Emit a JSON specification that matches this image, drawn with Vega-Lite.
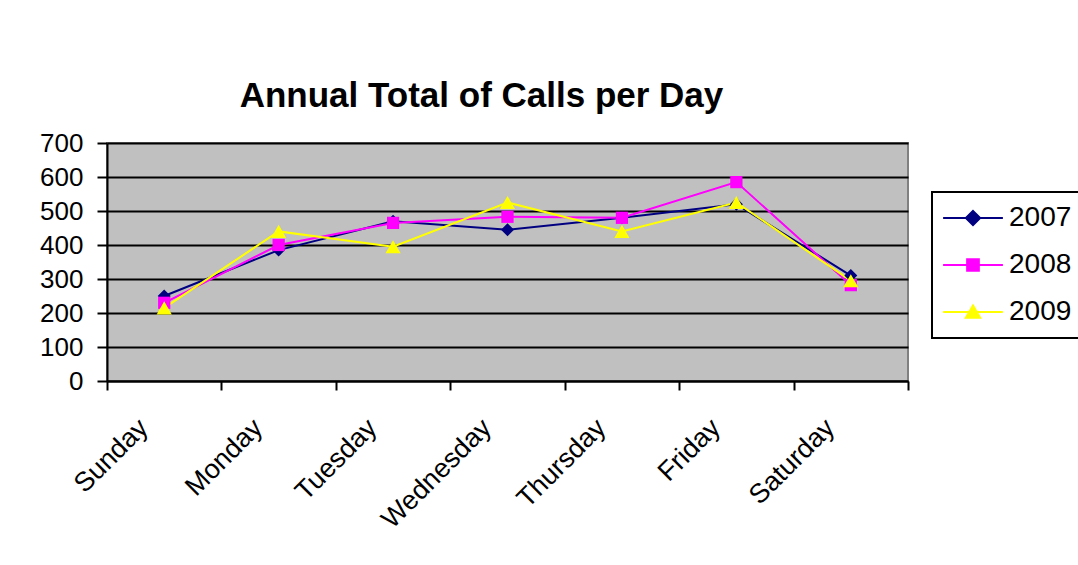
{
  "$schema": "https://vega.github.io/schema/vega-lite/v6.json",
  "autosize": {"type": "none"},
  "width": 801,
  "height": 238,
  "padding": {"left": 107, "top": 143, "right": 170, "bottom": 184},
  "background": "white",
  "title": {
    "text": "Annual Total of Calls per Day",
    "font": "Liberation Sans",
    "fontSize": 35,
    "fontWeight": "bold",
    "color": "black",
    "anchor": "middle",
    "frame": "group",
    "dx": -26,
    "baseline": "alphabetic",
    "offset": -12
  },
  "config": {
    "font": "Liberation Sans",
    "view": {"fill": "#C0C0C0", "stroke": "#808080", "strokeWidth": 2}
  },
  "data": {
    "values": [
      {"day": "Sunday", "year": "2007", "calls": 250},
      {"day": "Monday", "year": "2007", "calls": 385},
      {"day": "Tuesday", "year": "2007", "calls": 470},
      {"day": "Wednesday", "year": "2007", "calls": 445},
      {"day": "Thursday", "year": "2007", "calls": 480},
      {"day": "Friday", "year": "2007", "calls": 520},
      {"day": "Saturday", "year": "2007", "calls": 310},
      {"day": "Sunday", "year": "2008", "calls": 230},
      {"day": "Monday", "year": "2008", "calls": 400},
      {"day": "Tuesday", "year": "2008", "calls": 465},
      {"day": "Wednesday", "year": "2008", "calls": 483},
      {"day": "Thursday", "year": "2008", "calls": 480},
      {"day": "Friday", "year": "2008", "calls": 585},
      {"day": "Saturday", "year": "2008", "calls": 282},
      {"day": "Sunday", "year": "2009", "calls": 215},
      {"day": "Monday", "year": "2009", "calls": 440},
      {"day": "Tuesday", "year": "2009", "calls": 395},
      {"day": "Wednesday", "year": "2009", "calls": 525},
      {"day": "Thursday", "year": "2009", "calls": 440},
      {"day": "Friday", "year": "2009", "calls": 525},
      {"day": "Saturday", "year": "2009", "calls": 295}
    ]
  },
  "encoding": {
    "x": {
      "field": "day",
      "type": "nominal",
      "sort": ["Sunday", "Monday", "Tuesday", "Wednesday", "Thursday", "Friday", "Saturday"],
      "axis": {
        "title": null,
        "labelAngle": -45,
        "labelFontSize": 27,
        "labelColor": "black",
        "labelPadding": 24,
        "labelOffset": -30,
        "tickBand": "extent",
        "ticks": true,
        "tickSize": 9,
        "tickWidth": 2,
        "tickColor": "black",
        "domainColor": "black",
        "domainWidth": 2,
        "grid": false
      }
    },
    "y": {
      "field": "calls",
      "type": "quantitative",
      "scale": {"domain": [0, 700], "nice": false},
      "axis": {
        "title": null,
        "values": [0, 100, 200, 300, 400, 500, 600, 700],
        "labelFontSize": 26,
        "labelColor": "black",
        "labelPadding": 14,
        "tickSize": 10,
        "tickWidth": 2,
        "tickColor": "black",
        "domainColor": "black",
        "domainWidth": 2,
        "grid": true,
        "gridColor": "black",
        "gridWidth": 2
      }
    }
  },
  "layer": [
    {
      "mark": {"type": "line", "strokeWidth": 2},
      "encoding": {
        "color": {
          "field": "year",
          "type": "nominal",
          "scale": {"domain": ["2007", "2008", "2009"], "range": ["#000080", "#FF00FF", "#FFFF00"]},
          "legend": {
            "title": null,
            "orient": "none",
            "legendX": 825,
            "legendY": 49,
            "padding": 12,
            "strokeColor": "black",
            "fillColor": "white",
            "labelFontSize": 28,
            "labelColor": "black",
            "symbolSize": 169,
            "symbolOffset": 15,
            "labelOffset": 22,
            "rowPadding": 19,
            "symbolStrokeWidth": 2,
            "symbolOpacity": 1,
            "encoding": {
              "symbols": {
                "shape": {"value": {"expr": "datum.value == '2007' ? 'M-4.6,0H4.6M0,-1.1L1.1,0L0,1.1L-1.1,0Z' : datum.value == '2008' ? 'M-4.6,0H4.6M-0.9,-0.9H0.9V0.9H-0.9Z' : 'M-4.6,0H4.6M0,-1L1.1,0.9H-1.1Z'"}},
                "fill": {"value": {"expr": "datum.value == '2007' ? '#000080' : datum.value == '2008' ? '#FF00FF' : '#FFFF00'"}},
                "stroke": {"value": {"expr": "datum.value == '2007' ? '#000080' : datum.value == '2008' ? '#FF00FF' : '#FFFF00'"}}
              },
              "legend": {
                "strokeWidth": {"value": 2}
              }
            }
          }
        }
      }
    },
    {
      "transform": [{"filter": "datum.year == '2007'"}],
      "mark": {"type": "point", "filled": true, "opacity": 1, "shape": "diamond", "size": 169, "color": "#000080"}
    },
    {
      "transform": [{"filter": "datum.year == '2008'"}],
      "mark": {"type": "point", "filled": true, "opacity": 1, "shape": "square", "size": 150, "color": "#FF00FF"}
    },
    {
      "transform": [{"filter": "datum.year == '2009'"}],
      "mark": {"type": "point", "filled": true, "opacity": 1, "shape": "triangle-up", "size": 230, "color": "#FFFF00"}
    }
  ]
}
